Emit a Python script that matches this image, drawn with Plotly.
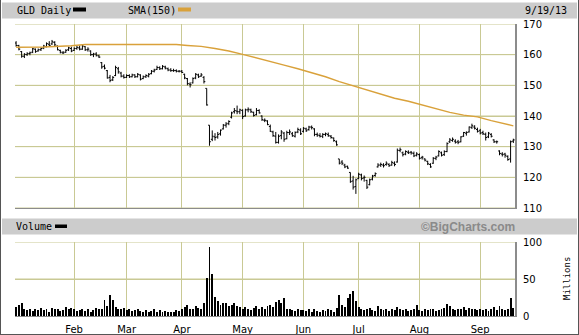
import pandas as pd
import plotly.graph_objects as go

# ---------------- data ----------------
holidays = ["2013-01-21", "2013-02-18", "2013-03-29", "2013-05-27", "2013-07-04", "2013-09-02"]
dates = [d.strftime("%Y-%m-%d") for d in pd.bdate_range("2013-01-02", "2013-09-19")
         if d.strftime("%Y-%m-%d") not in holidays]

month_labels = ["Feb", "Mar", "Apr", "May", "Jun", "Jul", "Aug", "Sep"]
price_ticks = [110, 120, 130, 140, 150, 160, 170]
volume_ticks = [0, 50, 100]

opens = [
    # Jan
    163.8, 163.0, 161.0, 159.5, 160.0, 160.4, 160.8, 161.8, 161.2, 161.6, 162.2, 162.6, 163.4, 163.5, 164.0, 162.8, 161.4, 160.6, 160.8, 161.6, 162.0,
    # Feb
    161.4, 162.0, 162.2, 161.8, 162.6, 161.6, 161.2, 160.0, 160.2, 159.6, 157.4, 156.2, 154.8, 152.6, 151.8, 153.2, 155.4, 154.0, 153.0,
    # Mar
    152.6, 153.2, 152.8, 153.4, 152.8, 153.4, 152.2, 152.8, 153.0, 153.8, 154.6, 155.2, 155.8, 155.4, 156.0, 155.4, 155.0, 154.8, 154.8, 154.6,
    # Apr
    154.6, 153.6, 152.2, 150.4, 150.8, 152.4, 153.4, 153.0, 152.6, 149.0, 137.0, 132.4, 133.2, 133.2, 134.2, 135.8, 137.0, 137.6, 139.6, 141.4, 141.6, 141.4,
    # May
    141.8, 140.0, 142.0, 142.0, 141.2, 140.4, 141.8, 140.0, 138.6, 138.4, 136.6, 134.8, 133.4, 131.4, 133.6, 134.4, 132.6, 134.6, 134.2, 133.4, 134.8, 135.4,
    # Jun
    135.0, 135.8, 135.6, 136.4, 135.8, 134.0, 133.6, 133.4, 134.0, 134.0, 133.4, 132.8, 131.6, 126.0, 125.0, 124.0, 123.6, 121.6, 118.8, 117.0,
    # Jul
    119.6, 120.8, 119.8, 119.0, 117.6, 119.4, 120.6, 123.4, 124.0, 124.0, 124.2, 124.2, 124.0, 124.6, 125.0, 128.8, 128.0, 127.6, 128.2, 128.2, 127.8, 127.2,
    # Aug
    127.4, 126.4, 126.0, 125.2, 124.2, 124.6, 126.2, 127.0, 128.0, 127.4, 128.4, 131.6, 132.0, 131.8, 131.6, 131.6, 133.4, 134.4, 134.8, 136.2, 136.4, 135.6,
    # Sep
    135.2, 134.6, 134.0, 133.2, 134.0, 132.2, 131.6, 128.6, 127.6, 127.6, 126.8, 126.0, 131.8,
]
highs = [
    164.4, 163.2, 161.2, 160.5, 160.8, 161.0, 162.2, 162.0, 162.0, 162.4, 163.2, 164.0, 164.4, 164.8, 164.4, 163.0, 161.6, 161.2, 161.8, 162.6, 162.6,
    162.4, 162.8, 163.0, 163.2, 162.8, 162.4, 161.4, 160.6, 160.8, 160.0, 157.6, 156.8, 155.0, 153.4, 153.0, 156.4, 156.0, 154.4, 153.6,
    153.6, 153.6, 153.8, 153.6, 154.0, 153.6, 153.2, 153.6, 154.0, 155.0, 155.4, 156.4, 156.2, 156.6, 156.4, 155.8, 155.6, 155.4, 155.2, 155.0,
    155.0, 153.8, 152.4, 151.0, 152.6, 154.0, 153.8, 154.0, 153.0, 149.0, 137.0, 135.3, 134.4, 134.8, 135.6, 137.4, 138.0, 138.6, 141.4, 142.6, 143.4, 142.4,
    142.2, 142.4, 142.8, 142.4, 141.4, 142.6, 142.2, 140.2, 139.2, 138.6, 137.2, 135.2, 134.8, 134.0, 135.4, 134.8, 135.2, 135.6, 134.8, 135.0, 136.2, 136.0,
    136.4, 136.2, 136.8, 136.9, 136.0, 134.6, 134.4, 134.4, 134.6, 134.6, 133.8, 133.0, 132.0, 126.0, 125.6, 124.4, 123.8, 121.6, 120.5, 119.6,
    121.5, 121.2, 120.6, 119.2, 119.6, 120.8, 121.6, 124.6, 124.8, 124.6, 125.2, 124.6, 125.4, 125.2, 129.4, 129.7, 128.4, 128.8, 128.8, 128.6, 128.4, 128.2,
    127.8, 127.0, 126.2, 125.4, 124.6, 126.6, 127.0, 128.8, 128.4, 128.8, 131.4, 132.8, 133.0, 132.4, 132.2, 133.4, 134.8, 135.0, 136.6, 137.5, 137.0, 136.2,
    135.8, 135.2, 134.6, 134.8, 134.4, 132.4, 132.0, 128.8, 128.2, 128.0, 127.2, 132.0, 132.6,
]
lows = [
    162.6, 161.4, 159.0, 158.9, 159.6, 159.8, 160.5, 160.6, 161.0, 161.2, 161.8, 162.4, 162.8, 163.2, 162.8, 161.4, 160.4, 160.2, 160.6, 161.2, 160.8,
    161.2, 161.6, 161.4, 161.6, 161.2, 161.0, 159.6, 159.2, 159.4, 158.9, 155.4, 155.2, 152.2, 151.0, 151.4, 153.0, 153.8, 152.6, 152.2,
    152.4, 152.4, 152.6, 152.4, 152.6, 151.6, 152.0, 152.4, 152.6, 153.6, 154.2, 155.0, 155.0, 155.2, 155.2, 154.6, 154.4, 154.4, 154.2, 154.2,
    154.0, 152.0, 150.0, 149.3, 150.6, 152.0, 152.4, 152.8, 150.6, 143.4, 130.3, 131.8, 132.0, 132.6, 133.6, 135.6, 136.2, 137.0, 139.2, 140.8, 140.6, 140.6,
    139.0, 139.8, 141.2, 141.0, 139.8, 140.2, 140.8, 138.4, 138.0, 137.0, 134.8, 133.2, 131.0, 131.0, 132.4, 131.6, 132.4, 133.8, 133.2, 133.0, 134.4, 133.8,
    134.6, 134.8, 135.2, 135.6, 133.4, 133.2, 133.0, 132.8, 133.4, 133.2, 132.6, 131.6, 130.3, 124.2, 124.0, 123.0, 122.8, 118.2, 116.0, 114.6,
    119.4, 119.0, 118.6, 116.2, 117.4, 119.0, 120.2, 123.2, 123.4, 123.2, 123.8, 123.4, 123.8, 123.6, 124.8, 128.2, 126.8, 127.2, 127.6, 127.4, 126.6, 126.8,
    125.8, 125.8, 125.2, 124.0, 123.1, 124.4, 125.6, 126.8, 126.8, 127.0, 128.2, 131.2, 131.6, 131.0, 130.8, 131.4, 133.2, 133.6, 134.6, 135.8, 135.6, 134.6,
    134.0, 133.8, 132.0, 132.8, 133.0, 131.2, 131.0, 127.2, 126.8, 126.4, 125.4, 124.8, 131.2,
]
closes = [
    163.0, 161.8, 159.5, 160.1, 160.3, 160.6, 161.9, 161.0, 161.6, 162.0, 162.8, 163.6, 163.0, 164.2, 163.2, 161.6, 160.8, 160.6, 161.4, 162.2, 161.2,
    162.0, 162.4, 161.8, 162.8, 161.6, 161.8, 160.0, 160.2, 159.8, 159.2, 156.0, 155.6, 152.4, 151.6, 152.6, 155.8, 154.4, 153.0, 152.6,
    153.2, 152.8, 153.4, 152.8, 153.6, 152.0, 152.8, 153.2, 153.6, 154.6, 155.0, 155.8, 155.4, 156.2, 155.6, 155.0, 154.8, 154.8, 154.6, 154.6,
    154.2, 152.4, 150.6, 150.2, 152.2, 153.6, 152.8, 153.4, 151.2, 143.6, 131.6, 133.4, 133.0, 134.0, 135.4, 137.0, 137.4, 138.2, 141.0, 141.8, 141.4, 142.0,
    139.8, 142.0, 142.2, 141.4, 140.2, 141.8, 141.0, 138.8, 138.6, 137.2, 135.0, 133.6, 131.4, 133.4, 134.8, 132.4, 134.6, 134.8, 133.6, 134.6, 135.6, 134.2,
    136.0, 135.2, 136.4, 136.2, 134.0, 133.8, 133.4, 134.0, 134.2, 133.6, 133.0, 132.0, 130.6, 124.6, 124.6, 123.4, 123.0, 118.6, 116.8, 119.2,
    121.0, 119.6, 120.0, 116.8, 119.2, 120.4, 121.2, 124.0, 124.2, 123.8, 124.6, 123.8, 124.8, 124.2, 128.8, 129.0, 127.4, 128.4, 128.0, 128.0, 127.0, 127.6,
    126.2, 126.6, 125.6, 124.4, 123.4, 126.2, 126.6, 128.4, 127.2, 128.4, 131.0, 132.2, 132.4, 131.4, 131.4, 133.2, 134.6, 134.6, 136.4, 136.8, 136.0, 135.0,
    134.4, 134.2, 133.0, 134.4, 133.4, 131.6, 131.6, 127.8, 127.4, 127.2, 125.8, 131.6, 132.2,
]
volume = [
    12, 15, 17, 10, 8, 9, 7, 10, 8, 11, 8, 9, 6, 11, 9, 10, 7, 8, 12, 9, 11,
    9, 7, 8, 10, 7, 9, 6, 8, 11, 9, 10, 21, 14, 29, 22, 12, 10, 9, 11,
    8, 10, 7, 8, 9, 7, 6, 8, 6, 7, 9, 6, 8, 5, 7, 6, 5, 6, 8, 7,
    10, 12, 15, 9, 10, 14, 11, 9, 18, 52, 93, 57, 26, 20, 15, 17, 18, 14, 15, 18, 13, 12,
    10, 12, 9, 8, 11, 13, 10, 12, 9, 14, 15, 12, 19, 21, 17, 25, 10, 9, 8, 7, 9, 8,
    8, 7, 9, 6, 10, 7, 6, 8, 7, 9, 8, 6, 11, 28, 15, 12, 24, 30, 34, 20,
    12, 9, 8, 10, 11, 8, 7, 14, 9, 8, 10, 7, 9, 8, 12, 10, 8, 9, 7, 8, 10, 15,
    8, 7, 9, 8, 10, 9, 7, 8, 9, 11, 16, 14, 9, 8, 10, 9, 12, 8, 11, 10, 9, 8,
    9, 8, 10, 7, 9, 12, 8, 13, 9, 8, 10, 24, 11,
]
# 150-day SMA, read at sampled trading days (index into dates)
sma_idx = [0, 10, 20, 25, 40, 58, 62, 67, 72, 77, 82, 87, 92, 97, 102, 107, 112, 117, 122, 127,
           132, 137, 142, 147, 152, 157, 162, 167, 172, 177, 180]
sma_val = [162.4, 162.5, 162.9, 163.3, 163.3, 163.3, 163.0, 162.7, 162.0, 161.2, 160.1, 159.0, 157.7, 156.6, 155.4,
           154.2, 152.8, 151.2, 149.8, 148.4, 147.0, 145.8, 144.8, 143.6, 142.3, 141.2, 140.3, 139.7, 138.5, 137.4, 136.8]

# first trading day of each month (Feb..Sep) for gridlines / labels
month_starts = []
for i in range(1, len(dates)):
    if dates[i][5:7] != dates[i - 1][5:7]:
        month_starts.append(dates[i])

# ---------------- style ----------------
W, H = 579, 335
ML, MR, MT, MB = 15, 64, 24, 19
PW, PH = W - ML - MR, H - MT - MB
GRID = "#C9C994"
AXLINE = "#8C8C8C"
BAND = "#CCCCCC"
SMA_COLOR = "#D9A13A"
SANS = "DejaVu Sans"
MONO = "DejaVu Sans Mono"


def px(x):
    return (x - ML) / PW


def py(y):
    return (H - MB - y) / PH


fig = go.Figure()
fig.add_trace(go.Ohlc(
    x=dates, open=opens, high=highs, low=lows, close=closes,
    increasing=dict(line=dict(color="black", width=1)),
    decreasing=dict(line=dict(color="black", width=1)),
    tickwidth=0.5, xaxis="x", yaxis="y", hoverinfo="skip", showlegend=False))
fig.add_trace(go.Scatter(
    x=[dates[i] for i in sma_idx], y=sma_val, mode="lines",
    line=dict(color=SMA_COLOR, width=1.4), xaxis="x", yaxis="y",
    hoverinfo="skip", showlegend=False))
fig.add_trace(go.Bar(
    x=dates, y=volume, width=0.34, marker=dict(color="black", line=dict(width=0)),
    xaxis="x2", yaxis="y2", hoverinfo="skip", showlegend=False))

main_bottom = py(208)
vol_top = py(242)

xcommon = dict(type="category", range=[-0.4, len(dates) - 0.4], tickvals=month_starts,
               showgrid=True, gridcolor=GRID, gridwidth=1, ticks="", automargin=False,
               showline=True, linecolor=AXLINE, linewidth=1, fixedrange=True)
ycommon = dict(side="right", showgrid=True, gridcolor=GRID, gridwidth=1, zeroline=False,
               showline=True, linecolor=AXLINE, linewidth=2, ticks="", ticklabelstandoff=4,
               automargin=False, fixedrange=True,
               tickfont=dict(family=SANS, size=10, color="black"))
fig.update_layout(
    width=W, height=H, margin=dict(l=ML, r=MR, t=MT, b=MB, pad=0, autoexpand=False),
    paper_bgcolor="white", plot_bgcolor="white", showlegend=False, bargap=0,
    xaxis=dict(**xcommon, anchor="y", showticklabels=False, rangeslider=dict(visible=False)),
    xaxis2=dict(**xcommon, anchor="y2", ticktext=month_labels, showticklabels=True,
                ticklabelstandoff=4, tickfont=dict(family=SANS, size=10, color="black")),
    yaxis=dict(**ycommon, domain=[main_bottom, 1], range=[110, 170], tickvals=price_ticks),
    yaxis2=dict(**ycommon, domain=[0, vol_top], range=[0, 100], tickvals=volume_ticks),
)

shapes = [
    dict(type="rect", xref="paper", yref="paper", x0=px(2), x1=px(577), y0=py(18.5), y1=py(2.5),
         fillcolor=BAND, line=dict(width=0), layer="below"),
    dict(type="rect", xref="paper", yref="paper", x0=px(2), x1=px(577), y0=py(234.5), y1=py(218.5),
         fillcolor=BAND, line=dict(width=0), layer="below"),
    # legend swatches
    dict(type="rect", xref="paper", yref="paper", x0=px(73), x1=px(86), y0=py(11.5), y1=py(7.5),
         fillcolor="black", line=dict(width=0)),
    dict(type="rect", xref="paper", yref="paper", x0=px(178), x1=px(191), y0=py(11.5), y1=py(7.5),
         fillcolor=SMA_COLOR, line=dict(width=0)),
    dict(type="rect", xref="paper", yref="paper", x0=px(55), x1=px(67), y0=py(228), y1=py(224.5),
         fillcolor="black", line=dict(width=0)),
    # outer frame
    dict(type="line", xref="paper", yref="paper", x0=px(0.5), x1=px(0.5), y0=py(334.5), y1=py(0),
         line=dict(color="#555555", width=1)),
    dict(type="line", xref="paper", yref="paper", x0=px(578.5), x1=px(578.5), y0=py(334.5), y1=py(0),
         line=dict(color="#555555", width=1)),
    dict(type="line", xref="paper", yref="paper", x0=px(0), x1=px(579), y0=py(334.5), y1=py(334.5),
         line=dict(color="#555555", width=1)),
]
# horizontal price/volume gridlines (drawn under the marks)
for v in price_ticks:
    shapes.append(dict(type="line", xref="x domain", yref="y", x0=0, x1=1, y0=v, y1=v,
                       line=dict(color=GRID, width=1), layer="below"))
for v in volume_ticks[1:]:
    shapes.append(dict(type="line", xref="x2 domain", yref="y2", x0=0, x1=1, y0=v, y1=v,
                       line=dict(color=GRID, width=1), layer="below"))

annots = [
    dict(text="GLD Daily", x=px(15), y=py(10.5), xanchor="left", yanchor="middle",
         font=dict(family=MONO, size=10, color="black")),
    dict(text="SMA(150)", x=px(126), y=py(10.5), xanchor="left", yanchor="middle",
         font=dict(family=MONO, size=10, color="black")),
    dict(text="9/19/13", x=px(523), y=py(10.5), xanchor="left", yanchor="middle",
         font=dict(family=MONO, size=10, color="black")),
    dict(text="Volume", x=px(14), y=py(226.5), xanchor="left", yanchor="middle",
         font=dict(family=MONO, size=10, color="black")),
    dict(text="<b>©BigCharts.com</b>", x=px(517), y=py(226.5), xanchor="right", yanchor="middle",
         font=dict(family="Liberation Sans", size=12, color="#8A8A8A")),
    dict(text="Millions", x=px(567), y=py(279), xanchor="center", yanchor="middle", textangle=-90,
         font=dict(family=MONO, size=9, color="black")),
]
for a in annots:
    a.update(xref="paper", yref="paper", showarrow=False)

fig.update_layout(shapes=shapes, annotations=annots)
fig.write_html("out.html")
